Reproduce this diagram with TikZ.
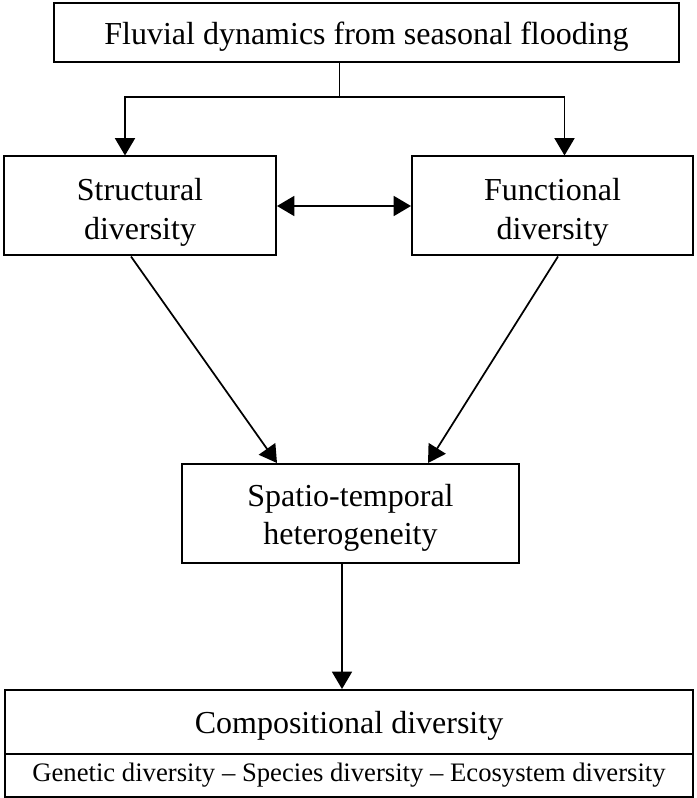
\documentclass[tikz,border=0pt]{standalone}
\usepackage{fontspec}
\setmainfont{Liberation Serif}
\usetikzlibrary{arrows.meta}

% centred lines of text, lowered by #1 without changing the reported size
\newcommand\boxtext[2]{\raisebox{-#1}[\height][\depth]{\begin{tabular}{@{}c@{}}#2\end{tabular}}}

\tikzset{
  box/.style={draw, line width=1.5pt, rectangle, inner sep=0pt,
    font=\fontsize{24}{29}\selectfont},
  lbl/.style={inner sep=0pt, font=\fontsize{24}{29}\selectfont},
  arr/.style={line width=1.3pt, -{Triangle[length=13pt, width=15pt]}},
  darr/.style={line width=1.3pt, {Triangle[length=13pt, width=15pt]}-{Triangle[length=13pt, width=15pt]}},
  link/.style={line width=1.3pt},
  divider/.style={line width=0.9pt}
}

\begin{document}
\begin{tikzpicture}[x=0.75pt, y=-0.75pt]
  % page frame
  \useasboundingbox (0,0) rectangle (696,798);

  % boxes
  \node[box, minimum width=625*0.75pt, minimum height=59*0.75pt] (top) at (366.5,32.5)
    {\boxtext{2.9pt}{Fluvial dynamics from seasonal flooding}};
  \node[box, minimum width=272*0.75pt, minimum height=99*0.75pt] (struct) at (140,206)
    {\boxtext{4.5pt}{Structural\\diversity}};
  \node[box, minimum width=281*0.75pt, minimum height=99*0.75pt] (func) at (552.5,206)
    {\boxtext{4.5pt}{Functional\\diversity}};
  \node[box, minimum width=337*0.75pt, minimum height=99*0.75pt] (spatio) at (350.5,513.5)
    {\boxtext{3.3pt}{Spatio-temporal\\heterogeneity}};

  % compositional diversity with its three levels underneath
  \node[box, minimum width=688*0.75pt, minimum height=107*0.75pt] (comp) at (349,743.5) {};
  \node[lbl] (compT) at (349,722) {\boxtext{2.5pt}{Compositional diversity}};
  \node[lbl, font=\fontsize{20}{24}\selectfont] (levels) at (349,775.5)
    {\boxtext{0pt}{Genetic diversity -- Species diversity -- Ecosystem diversity}};
  \coordinate (cut) at (0,754);
  \draw[divider] (comp.west |- cut) -- (comp.east |- cut);

  % fork below the top box
  \coordinate (fork) at (339.5,97);
  \coordinate (sx) at (125,0);
  \coordinate (fx) at (564.5,0);
  \draw[link] (top.south -| fork) -- (fork);
  \draw[arr] (fork) -| (struct.north -| sx);
  \draw[arr] (fork) -| (func.north -| fx);

  % mutual link between structural and functional diversity
  \draw[darr] (struct.east) -- (func.west);

  % both feed the spatio-temporal heterogeneity
  \coordinate (s1) at (131,0);
  \coordinate (s2) at (277,0);
  \coordinate (f1) at (558,0);
  \coordinate (f2) at (428,0);
  \draw[arr] (struct.south -| s1) -- (spatio.north -| s2);
  \draw[arr] (func.south -| f1) -- (spatio.north -| f2);

  % down to compositional diversity
  \coordinate (dx) at (342,0);
  \draw[arr] (spatio.south -| dx) -- (comp.north -| dx);
\end{tikzpicture}
\end{document}
